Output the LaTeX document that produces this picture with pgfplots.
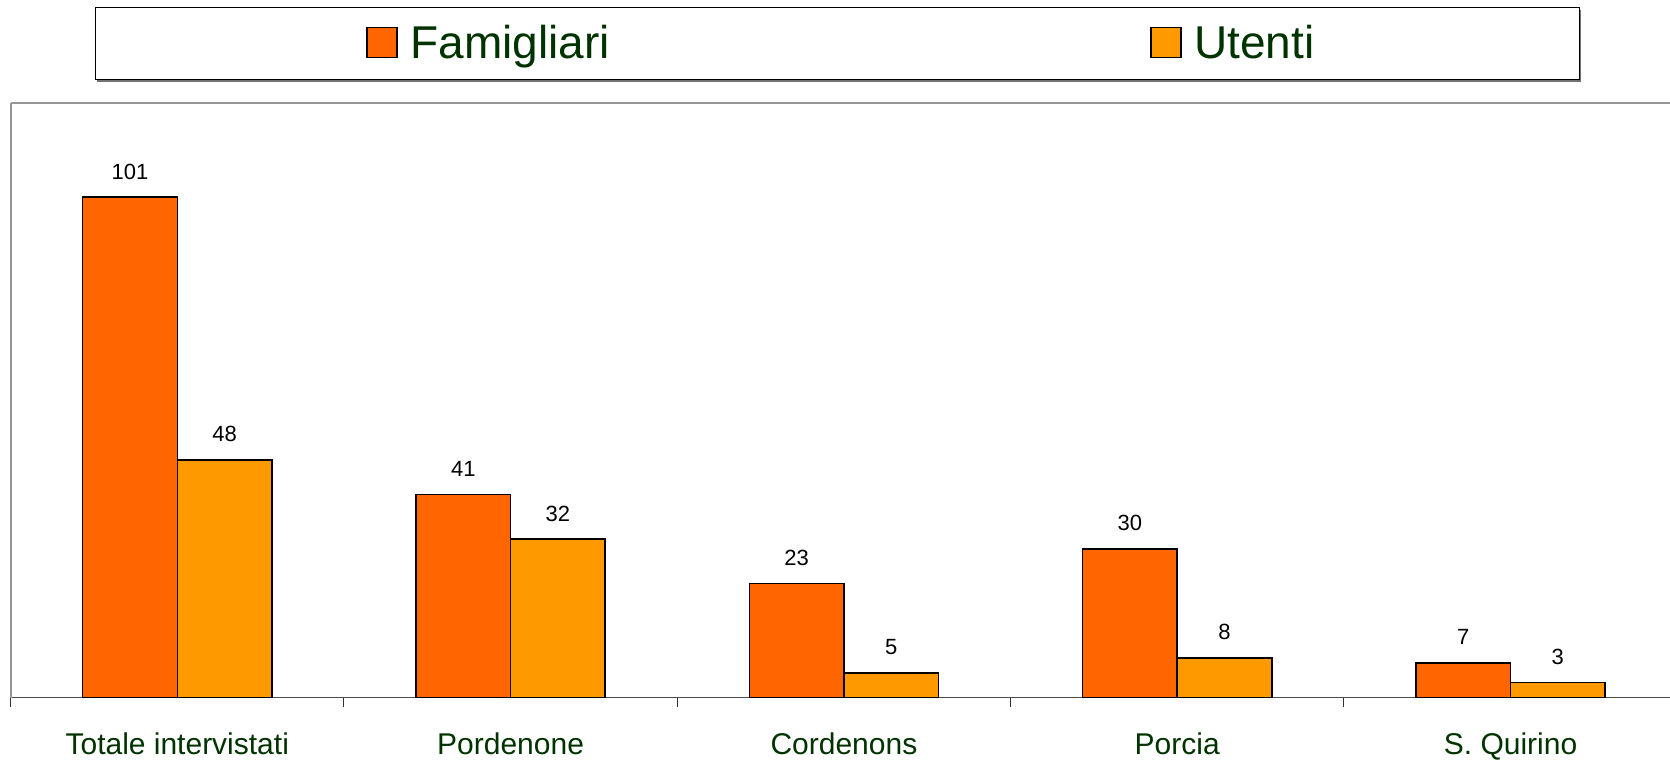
\documentclass[border=0pt]{standalone}
\usepackage{pgfplots}
\pgfplotsset{compat=1.18}
\usepackage{fontspec}
\setmainfont{Liberation Sans}
\definecolor{fam}{HTML}{FF6600}
\definecolor{ute}{HTML}{FF9900}
\definecolor{lbl}{HTML}{003300}
\definecolor{frame}{HTML}{969696}
\begin{document}
\begin{tikzpicture}
\useasboundingbox (0,0) rectangle (835pt,381pt);
% legend frame with shadow
\fill[black!55] (48.5pt,340.2pt) rectangle (790.7pt,376.2pt);
\draw[black, line width=0.5pt, fill=white] (47.5pt,341.2pt) rectangle (789.7pt,377.2pt);
\begin{axis}[
  at={(5.3pt,32.2pt)}, anchor=south west,
  scale only axis, width=833.3pt, height=297.3pt,
  xmin=-0.5, xmax=4.5, ymin=0, ymax=120,
  clip=false,
  /pgf/number format/assume math mode=true,
  ybar, bar width=47.3pt,
  axis lines*=left,
  y axis line style={frame, line width=1pt},
  x axis line style={black!70, line width=0.75pt},
  ytick=\empty,
  xtick={-0.5,0.5,1.5,2.5,3.5},
  xticklabels={},
  tick align=outside,
  major tick length=4.5pt,
  tick style={black!80, line width=0.5pt},
  extra x ticks={0,1,2,3,4},
  extra x tick labels={Totale intervistati,Pordenone,Cordenons,Porcia,S. Quirino},
  extra x tick style={major tick length=0pt,
    tick label style={anchor=base, yshift=-28.5pt, font=\fontsize{15}{18}\selectfont, text=lbl}},
  nodes near coords,
  every node near coord/.append style={font=\fontsize{11}{13}\selectfont, text=black, anchor=base, yshift=9pt},
  legend columns=2,
  legend image code/.code={\draw[#1, line width=0.75pt] (0pt,-6.95pt) rectangle (15pt,8.05pt);},
  legend style={draw=none, fill=none, inner sep=0pt,
    font=\fontsize{23}{27}\selectfont, text=lbl,
    at={(0.2132,1.1003)}, anchor=west,
    /tikz/every odd column/.append style={column sep=4.3pt},
    /tikz/every even column/.append style={column sep=268.2pt}},
]
\addplot[fill=fam, draw=black, line width=0.75pt, bar shift=-23.65pt]
  coordinates {(0,101) (1,41) (2,23) (3,30) (4,7)};
\addlegendentry{Famigliari}
\addplot[fill=ute, draw=black, line width=0.75pt, bar shift=23.65pt]
  coordinates {(0,48) (1,32) (2,5) (3,8) (4,3)};
\addlegendentry{Utenti}
\draw[frame, line width=1pt] (rel axis cs:0,1) -- (rel axis cs:1,1);
\end{axis}
\end{tikzpicture}
\end{document}
